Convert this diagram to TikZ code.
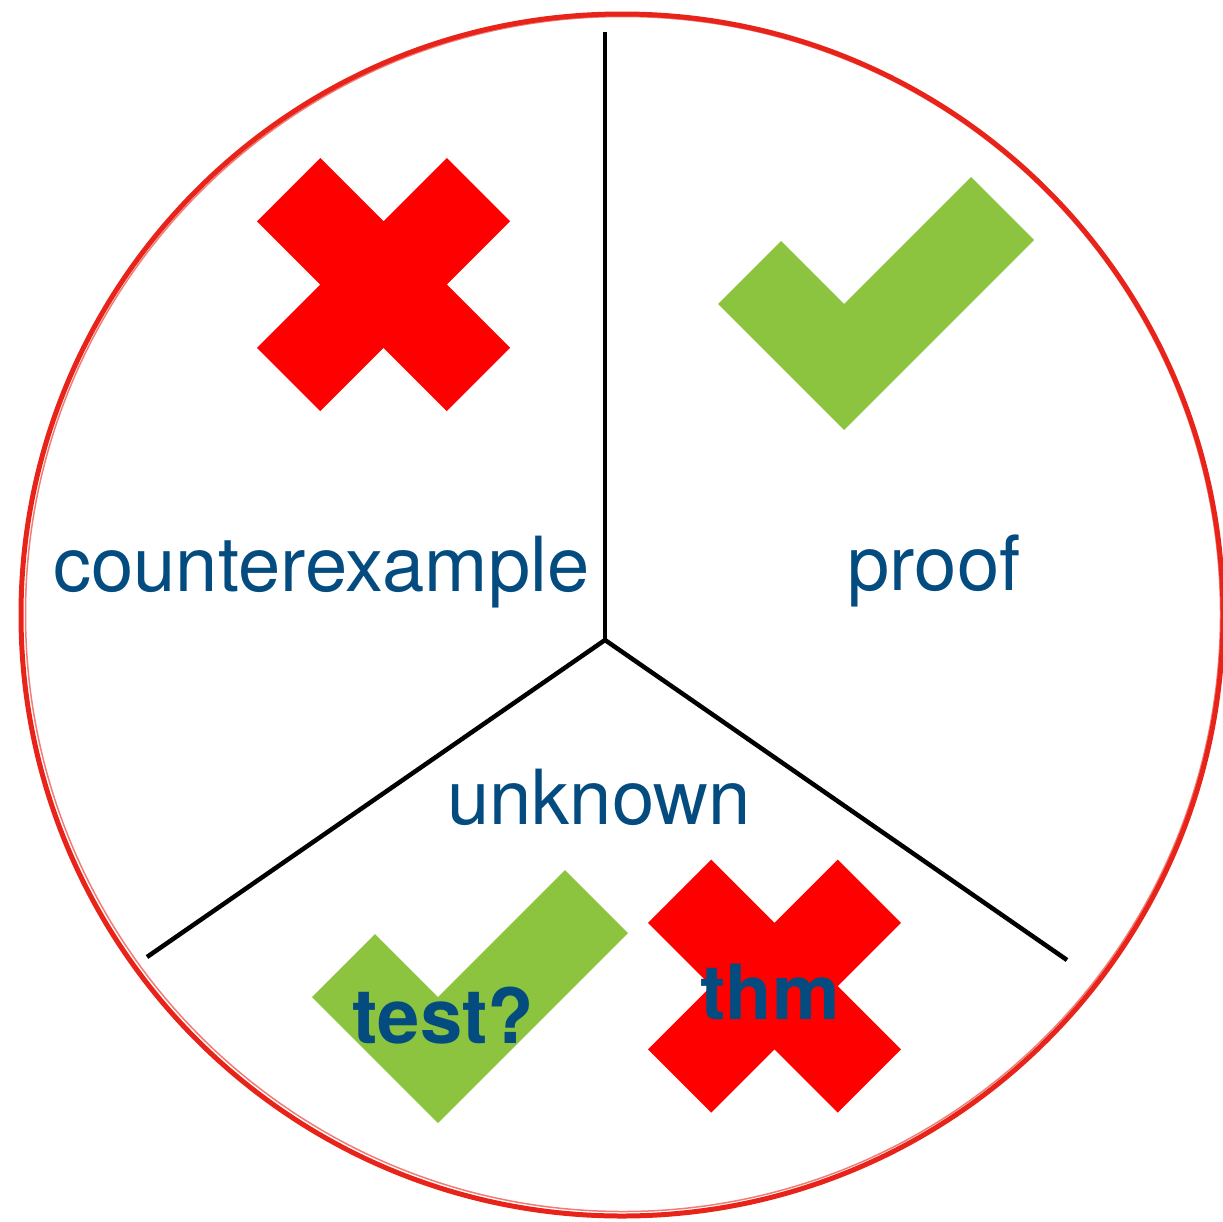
\documentclass[tikz,border=0pt]{standalone}
\usepackage{fontspec}
\setmainfont{TeX Gyre Heros}
\definecolor{txtblue}{RGB}{4,76,128}
\definecolor{ringred}{RGB}{232,36,26}
\definecolor{checkgreen}{RGB}{140,196,63}
\definecolor{crossred}{RGB}{255,0,0}
\tikzset{
  label text/.style={text=txtblue, inner sep=0pt, anchor=base, font=\fontsize{76}{90}\selectfont},
  bold text/.style={label text, font=\fontsize{76}{90}\selectfont\bfseries},
  divider/.style={draw=black, line width=4.5pt},
  ring/.style={draw=ringred, line width=5pt},
  crossmark/.pic={\fill[crossred] (-126.5,-63.25) -- (-63.25,-126.5) -- (0,-63.25) -- (63.25,-126.5) -- (126.5,-63.25) -- (63.25,0) -- (126.5,63.25) -- (63.25,126.5) -- (0,63.25) -- (-63.25,126.5) -- (-126.5,63.25) -- (-63.25,0) -- cycle;},
  checkmark/.pic={\fill[checkgreen] (0,0) -- (-126,-126) -- (-63,-189) -- (0,-126) -- (127,-253) -- (190,-190) -- cycle;}
}
\begin{document}
\begin{tikzpicture}[x=1pt,y=-1pt]
\useasboundingbox (0,0) rectangle (1223,1221);
% ring
\draw[ring] (622,615) circle[radius=601];
\draw[ringred, line width=1.5pt, opacity=0.6] (623,614) circle[radius=597.5];
% dividers
\coordinate (hub) at (605,640);
\coordinate (top) at (605,32);
\coordinate (left) at (147,957);
\coordinate (right) at (1067,960);
\draw[divider] (top) -- (hub);
\draw[divider] (hub) -- (left);
\draw[divider] (hub) -- (right);
% marks
\pic at (383.5,284.5) {crossmark};
\pic at (844,430) {checkmark};
\pic at (438,1123) {checkmark};
\pic at (774.5,986) {crossmark};
% labels
\node[label text] (counter) at (321.5,591) {counterexample};
\node[label text] (proof) at (934,590) {proof};
\node[label text] (unknown) at (599,824) {unknown};
\node[bold text] (test) at (443.5,1043) {test?};
\node[bold text] (thm) at (770,1019) {thm};
\end{tikzpicture}
\end{document}
